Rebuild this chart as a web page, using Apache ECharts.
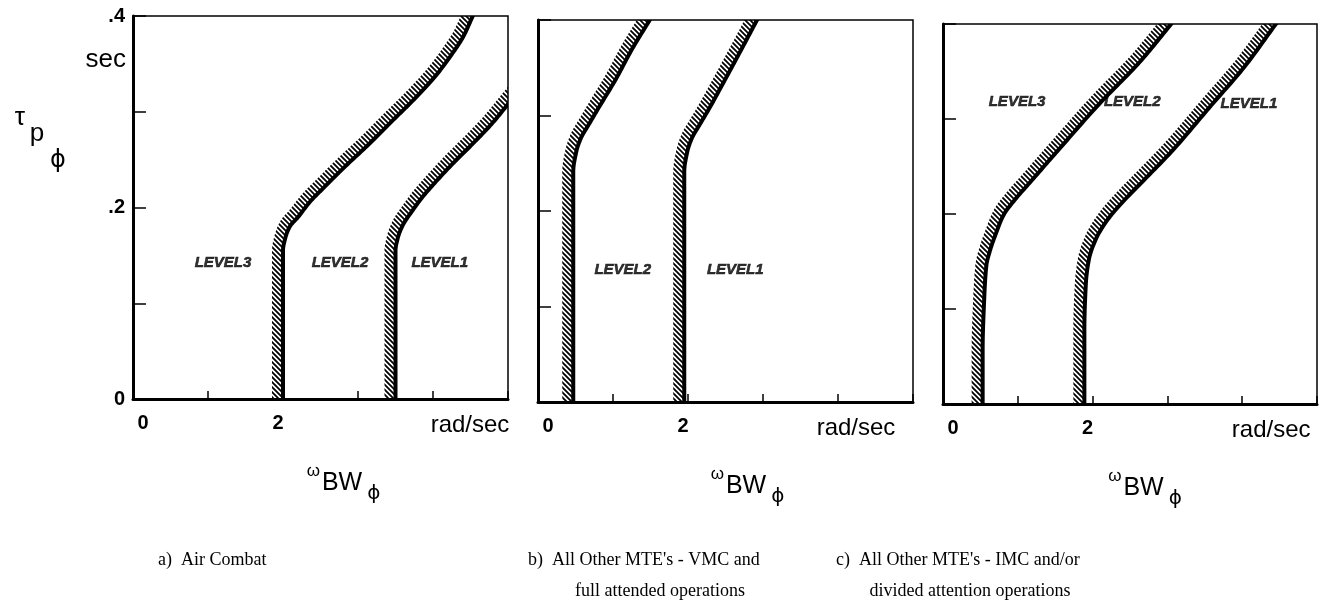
<!DOCTYPE html>
<html>
<head>
<meta charset="utf-8">
<script src="https://cdn.jsdelivr.net/npm/echarts/dist/echarts.min.js"></script>
<style>
  html, body { margin: 0; padding: 0; background: #fff; }
  #chart { width: 1326px; height: 609px; }
</style>
</head>
<body>
<div id="chart"></div>
<script>
// Roll attitude bandwidth boundaries, points are [omega_BW (rad/sec), tau_p (sec)]
const airCombatL3L2 = [[2.0,0],[2.0,0.08],[2.0,0.155],[2.03,0.168],[2.09,0.18],[2.2,0.19],[2.36,0.206],[2.56,0.222],[2.83,0.243],[3.13,0.265],[3.45,0.29],[3.76,0.314],[4.05,0.339],[4.25,0.36],[4.4,0.378],[4.53,0.4]];
const airCombatL2L1 = [[3.5,0],[3.5,0.08],[3.5,0.155],[3.53,0.168],[3.6,0.182],[3.71,0.195],[3.85,0.21],[4.05,0.228],[4.29,0.248],[4.56,0.269],[4.79,0.288],[5.0,0.308]];
const vmcL3L2 = [[0.47,0],[0.47,0.117],[0.47,0.241],[0.51,0.262],[0.57,0.276],[0.68,0.291],[0.8,0.307],[1.03,0.337],[1.25,0.369],[1.49,0.4]];
const vmcL2L1 = [[1.95,0],[1.95,0.117],[1.95,0.241],[1.99,0.262],[2.05,0.276],[2.16,0.291],[2.28,0.307],[2.49,0.337],[2.71,0.369],[2.92,0.4]];
const imcL3L2 = [[0.53,0],[0.53,0.057],[0.55,0.109],[0.58,0.146],[0.63,0.162],[0.71,0.18],[0.81,0.199],[0.96,0.215],[1.16,0.233],[1.56,0.269],[2.09,0.316],[2.63,0.36],[3.05,0.4]];
const imcL2L1 = [[1.89,0],[1.89,0.078],[1.91,0.127],[1.95,0.152],[2.04,0.173],[2.2,0.194],[2.43,0.215],[2.69,0.236],[3.07,0.267],[3.56,0.312],[4.03,0.355],[4.45,0.4]];

// Level region labels and where they sit
const levelNamesA = ['LEVEL3', 'LEVEL2', 'LEVEL1'];
const levelPosA = [[1.2,0.142],[2.76,0.142],[4.09,0.142]];
const levelNamesB = ['LEVEL2', 'LEVEL1'];
const levelPosB = [[1.13,0.138],[2.63,0.138]];
const levelNamesC = ['LEVEL3', 'LEVEL2', 'LEVEL1'];
const levelPosC = [[0.99,0.318],[2.53,0.318],[4.09,0.316]];

// Tick labels
const xTickValues = [0, 2, 4];
const xTickText = ['0', '2', 'rad/sec'];
const yTickValues = [0, 0.2, 0.4];
const yTickText = ['0', '.2', '.4'];

const captionsA = ['a)  Air Combat'];
const captionsB = ["b)  All Other MTE's - VMC and", 'full attended operations'];
const captionsC = ["c)  All Other MTE's - IMC and/or", 'divided attention operations'];

// ---------------------------------------------------------------
const SANS = 'Liberation Sans, Arial, Helvetica, DejaVu Sans, sans-serif';
const SERIF = 'Liberation Serif, Times New Roman, serif';

function makeHatch() {
  const s = 5;
  const c = document.createElement('canvas');
  c.width = s; c.height = s;
  const g = c.getContext('2d');
  g.strokeStyle = '#000';
  g.lineWidth = 1.8;
  g.beginPath();
  g.moveTo(-2, -2); g.lineTo(s + 2, s + 2);
  g.moveTo(-2, s - 2); g.lineTo(2, s + 2);
  g.moveTo(s - 2, -2); g.lineTo(s + 2, 2);
  g.stroke();
  return c;
}
const hatch = { image: makeHatch(), repeat: 'repeat' };

// monotone cubic (PCHIP) of omega as a function of tau, sampled densely
function densify(curve) {
  const n = curve.length;
  const ys = curve.map(p => p[1]), xs = curve.map(p => p[0]);
  const h = [], d = [];
  for (let k = 0; k < n - 1; k++) {
    h.push(ys[k + 1] - ys[k]);
    d.push((xs[k + 1] - xs[k]) / h[k]);
  }
  const m = new Array(n);
  m[0] = d[0]; m[n - 1] = d[n - 2];
  for (let k = 1; k < n - 1; k++) {
    if (d[k - 1] * d[k] <= 0) { m[k] = 0; continue; }
    m[k] = 3 * (h[k - 1] + h[k]) /
      ((2 * h[k] + h[k - 1]) / d[k - 1] + (h[k] + 2 * h[k - 1]) / d[k]);
  }
  if (d[0] === 0) m[0] = 0;
  const out = [];
  for (let k = 0; k < n - 1; k++) {
    const steps = 16;
    for (let s = 0; s < steps; s++) {
      const t = s / steps, t2 = t * t, t3 = t2 * t;
      const h00 = 2 * t3 - 3 * t2 + 1, h10 = t3 - 2 * t2 + t;
      const h01 = -2 * t3 + 3 * t2, h11 = t3 - t2;
      out.push([h00 * xs[k] + h10 * h[k] * m[k] + h01 * xs[k + 1] + h11 * h[k] * m[k + 1],
                ys[k] + t * h[k]]);
    }
  }
  out.push(curve[n - 1]);
  return out;
}

// boundary: solid line with a hatched band on its left / upper side
function boundaryRenderer(curve) {
  const dense = densify(curve);
  return function (params, api) {
    let pts = dense.map(p => api.coord(p));
    // run the ends on past the frame so the clip squares them off
    const a = pts[0], b = pts[1];
    const la = Math.hypot(b[0] - a[0], b[1] - a[1]) || 1;
    const y = pts[pts.length - 1], z = pts[pts.length - 2];
    const lz = Math.hypot(y[0] - z[0], y[1] - z[1]) || 1;
    pts = [[a[0] - (b[0] - a[0]) / la * 30, a[1] - (b[1] - a[1]) / la * 30]]
      .concat(pts, [[y[0] + (y[0] - z[0]) / lz * 30, y[1] + (y[1] - z[1]) / lz * 30]]);
    const inner = [], outer = [];
    const W = 11;
    for (let i = 0; i < pts.length; i++) {
      const p = pts[Math.max(0, i - 1)], q = pts[Math.min(pts.length - 1, i + 1)];
      let tx = q[0] - p[0], ty = q[1] - p[1];
      const l = Math.hypot(tx, ty) || 1;
      tx /= l; ty /= l;
      const nx = ty, ny = -tx;
      inner.push([pts[i][0] + nx * 0.5, pts[i][1] + ny * 0.5]);
      outer.push([pts[i][0] + nx * W, pts[i][1] + ny * W]);
    }
    const poly = inner.concat(outer.reverse());
    return {
      type: 'group',
      children: [
        { type: 'polygon', shape: { points: poly }, style: { fill: hatch, stroke: null } },
        { type: 'polyline', shape: { points: pts },
          style: { stroke: '#000', lineWidth: 4, fill: null, lineJoin: 'round' } }
      ]
    };
  };
}

const panels = [
  { rect: { left: 133, top: 16, width: 375, height: 383 }, curves: [airCombatL3L2, airCombatL2L1],
    names: levelNamesA, pos: levelPosA, yLabels: true, nameShift: 46, unitShift: 74 },
  { rect: { left: 538, top: 20, width: 375, height: 382 }, curves: [vmcL3L2, vmcL2L1],
    names: levelNamesB, pos: levelPosB, yLabels: false, nameShift: 44, unitShift: 36 },
  { rect: { left: 943, top: 24, width: 374, height: 380 }, curves: [imcL3L2, imcL2L1],
    names: levelNamesC, pos: levelPosC, yLabels: false, nameShift: 30, unitShift: 58 }
];

const xStyleKeys = ['z', 't', 'u'];
function findTick(values, v) {
  return values.findIndex(t => Math.abs(t - v) < 1e-9);
}

const grid = [], xAxis = [], yAxis = [], series = [];
panels.forEach((pn, i) => {
  grid.push(Object.assign({ show: true, borderColor: '#000', borderWidth: 1.5,
    backgroundColor: 'transparent', containLabel: false }, pn.rect));
  xAxis.push({
    type: 'value', gridIndex: i, min: 0, max: 5, interval: 1,
    axisLine: { show: true, onZero: false, lineStyle: { color: '#000', width: 3 } },
    axisTick: { show: true, inside: true, length: 8, lineStyle: { color: '#000', width: 1.5 } },
    splitLine: { show: false },
    axisLabel: {
      show: true, margin: 14, showMinLabel: true, showMaxLabel: true, hideOverlap: false,
      formatter: v => {
        const k = findTick(xTickValues, v);
        return k < 0 ? '' : '{' + xStyleKeys[k] + '|' + xTickText[k] + '}';
      },
      rich: {
        z: { fontFamily: SANS, fontSize: 20, fontWeight: 'bold', color: '#000', padding: [0, 0, 0, 20] },
        t: { fontFamily: SANS, fontSize: 20, fontWeight: 'bold', color: '#000', padding: [0, 10, 0, 0] },
        u: { fontFamily: SANS, fontSize: 24, color: '#000', padding: [0, 0, 0, pn.unitShift] }
      }
    },
    name: '{w|ω}{b|BW}{p|ϕ}',
    nameLocation: 'middle',
    nameGap: 63,
    nameTextStyle: {
      padding: [0, 0, 0, pn.nameShift],
      rich: {
        w: { fontFamily: SANS, fontSize: 17, color: '#000', padding: [0, 2, 24, 0] },
        b: { fontFamily: SANS, fontSize: 25, color: '#000' },
        p: { fontFamily: 'DejaVu Sans, sans-serif', fontSize: 20, color: '#000', padding: [22, 0, 0, 5] }
      }
    }
  });
  yAxis.push({
    type: 'value', gridIndex: i, min: 0, max: 0.4, interval: 0.1,
    axisLine: { show: true, onZero: false, lineStyle: { color: '#000', width: 3 } },
    axisTick: { show: true, inside: true, length: 13, lineStyle: { color: '#000', width: 1.5 } },
    splitLine: { show: false },
    axisLabel: {
      show: pn.yLabels, margin: 8, showMinLabel: true, showMaxLabel: true, hideOverlap: false,
      fontFamily: SANS, fontSize: 20, fontWeight: 'bold', color: '#000',
      formatter: v => {
        const k = findTick(yTickValues, v);
        return k < 0 ? '' : yTickText[k];
      }
    }
  });
  pn.curves.forEach(c => {
    series.push({
      type: 'custom', xAxisIndex: i, yAxisIndex: i, clip: true, silent: true, z: 3,
      data: [[0, 0]], renderItem: boundaryRenderer(c)
    });
  });
  series.push({
    type: 'scatter', xAxisIndex: i, yAxisIndex: i, symbolSize: 0, silent: true, z: 4,
    data: pn.pos.map((p, k) => ({ value: p, name: pn.names[k] })),
    label: {
      show: true, position: 'inside', formatter: '{b}',
      fontFamily: SANS, fontSize: 15, fontWeight: 'bold', fontStyle: 'italic', color: '#000',
      textBorderColor: '#000', textBorderWidth: 0.6
    }
  });
});

function txt(text, x, y, font, align) {
  return {
    type: 'text', x: x, y: y, silent: true,
    style: { text: text, font: font, fill: '#000',
      align: align || 'center', textAlign: align || 'center',
      verticalAlign: 'middle', textVerticalAlign: 'middle' }
  };
}

const graphic = [
  txt('sec', 126, 60, '26px ' + SANS, 'right'),
  txt('τ', 20, 118, '26px ' + SANS),
  txt('p', 37, 134, '26px ' + SANS),
  txt('ϕ', 58, 161, '24px DejaVu Sans, sans-serif'),
  txt(captionsA[0], 158, 560, '18px ' + SERIF, 'left'),
  txt(captionsB[0], 528, 560, '18px ' + SERIF, 'left'),
  txt(captionsB[1], 660, 591, '18px ' + SERIF, 'center'),
  txt(captionsC[0], 836, 560, '18px ' + SERIF, 'left'),
  txt(captionsC[1], 970, 591, '18px ' + SERIF, 'center')
];

const chart = echarts.init(document.getElementById('chart'), null, { renderer: 'canvas' });
chart.setOption({
  animation: false,
  backgroundColor: '#fff',
  grid: grid,
  xAxis: xAxis,
  yAxis: yAxis,
  series: series,
  graphic: graphic
});
</script>
</body>
</html>
